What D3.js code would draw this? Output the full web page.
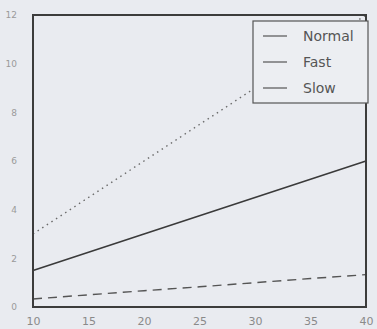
<!DOCTYPE html>
<html>
<head>
<meta charset="utf-8">
<script src="https://cdn.jsdelivr.net/npm/d3@7"></script>
<style>
  html, body { margin: 0; padding: 0; background: #e9ebf0; }
  svg { display: block; }
</style>
</head>
<body>
<div id="chart"></div>
<script>
// x values and the three series
const xValues = [10, 15, 20, 25, 30, 35, 40];
const normal = [1.5, 2.25, 3, 3.75, 4.5, 5.25, 6];
const fast = [3, 4.5, 6, 7.5, 9, 10.5, 12];
const slow = [0.33, 0.5, 0.67, 0.83, 1, 1.17, 1.33];
const seriesNames = ['Normal', 'Fast', 'Slow'];
const yTicks = [0, 2, 4, 6, 8, 10, 12];

const width = 377, height = 329;
const margin = { top: 15, right: 11, bottom: 22, left: 33 };
const w = width - margin.left - margin.right;
const h = height - margin.top - margin.bottom;

const svg = d3.select('#chart').append('svg')
  .attr('width', width)
  .attr('height', height);

const g = svg.append('g')
  .attr('transform', `translate(${margin.left},${margin.top})`);

const x = d3.scaleLinear().domain([10, 40]).range([0, w]);
const y = d3.scaleLinear().domain([0, 12]).range([h, 0]);

// styles per series
const styles = {
  Normal: { stroke: '#3a3a3a', dash: null, width: 1.6 },
  Fast: { stroke: '#6a6a6a', dash: '1.5,4', width: 1.4 },
  Slow: { stroke: '#555', dash: '9,6', width: 1.4 }
};
const data = { Normal: normal, Fast: fast, Slow: slow };

const line = d3.line()
  .x((d, i) => x(xValues[i]))
  .y(d => y(d));

seriesNames.forEach(name => {
  g.append('path')
    .datum(data[name])
    .attr('fill', 'none')
    .attr('stroke', styles[name].stroke)
    .attr('stroke-width', styles[name].width)
    .attr('stroke-dasharray', styles[name].dash)
    .attr('d', line);
});

// axes
g.append('g')
  .attr('transform', `translate(0,${h})`)
  .call(d3.axisBottom(x).tickValues(xValues).tickSize(0).tickPadding(10))
  .call(s => s.select('.domain').remove())
  .selectAll('text')
  .style('font-family', 'DejaVu Sans')
  .style('font-size', '11px')
  .style('fill', '#8a8a8a');

g.append('g')
  .call(d3.axisLeft(y).tickValues(yTicks).tickSize(0).tickPadding(16))
  .call(s => s.select('.domain').remove())
  .selectAll('text')
  .style('font-family', 'DejaVu Sans')
  .style('font-size', '9px')
  .style('fill', '#9a9a9a');

// frame
g.append('rect')
  .attr('x', 0).attr('y', 0)
  .attr('width', w).attr('height', h)
  .attr('fill', 'none')
  .attr('stroke', '#3c3c3c')
  .attr('stroke-width', 2);

// legend
const legend = g.append('g')
  .attr('transform', `translate(${w - 113},6)`);

legend.append('rect')
  .attr('width', 115)
  .attr('height', 82)
  .attr('fill', '#eceef2')
  .attr('stroke', '#555')
  .attr('stroke-width', 1.2);

seriesNames.forEach((name, i) => {
  const ly = 15 + i * 26;
  legend.append('line')
    .attr('x1', 10).attr('x2', 34)
    .attr('y1', ly).attr('y2', ly)
    .attr('stroke', '#555')
    .attr('stroke-width', 1.2);
  legend.append('text')
    .attr('x', 50)
    .attr('y', ly + 5)
    .style('font-family', 'DejaVu Sans')
    .style('font-size', '14px')
    .style('fill', '#555')
    .text(name);
});
</script>
</body>
</html>
